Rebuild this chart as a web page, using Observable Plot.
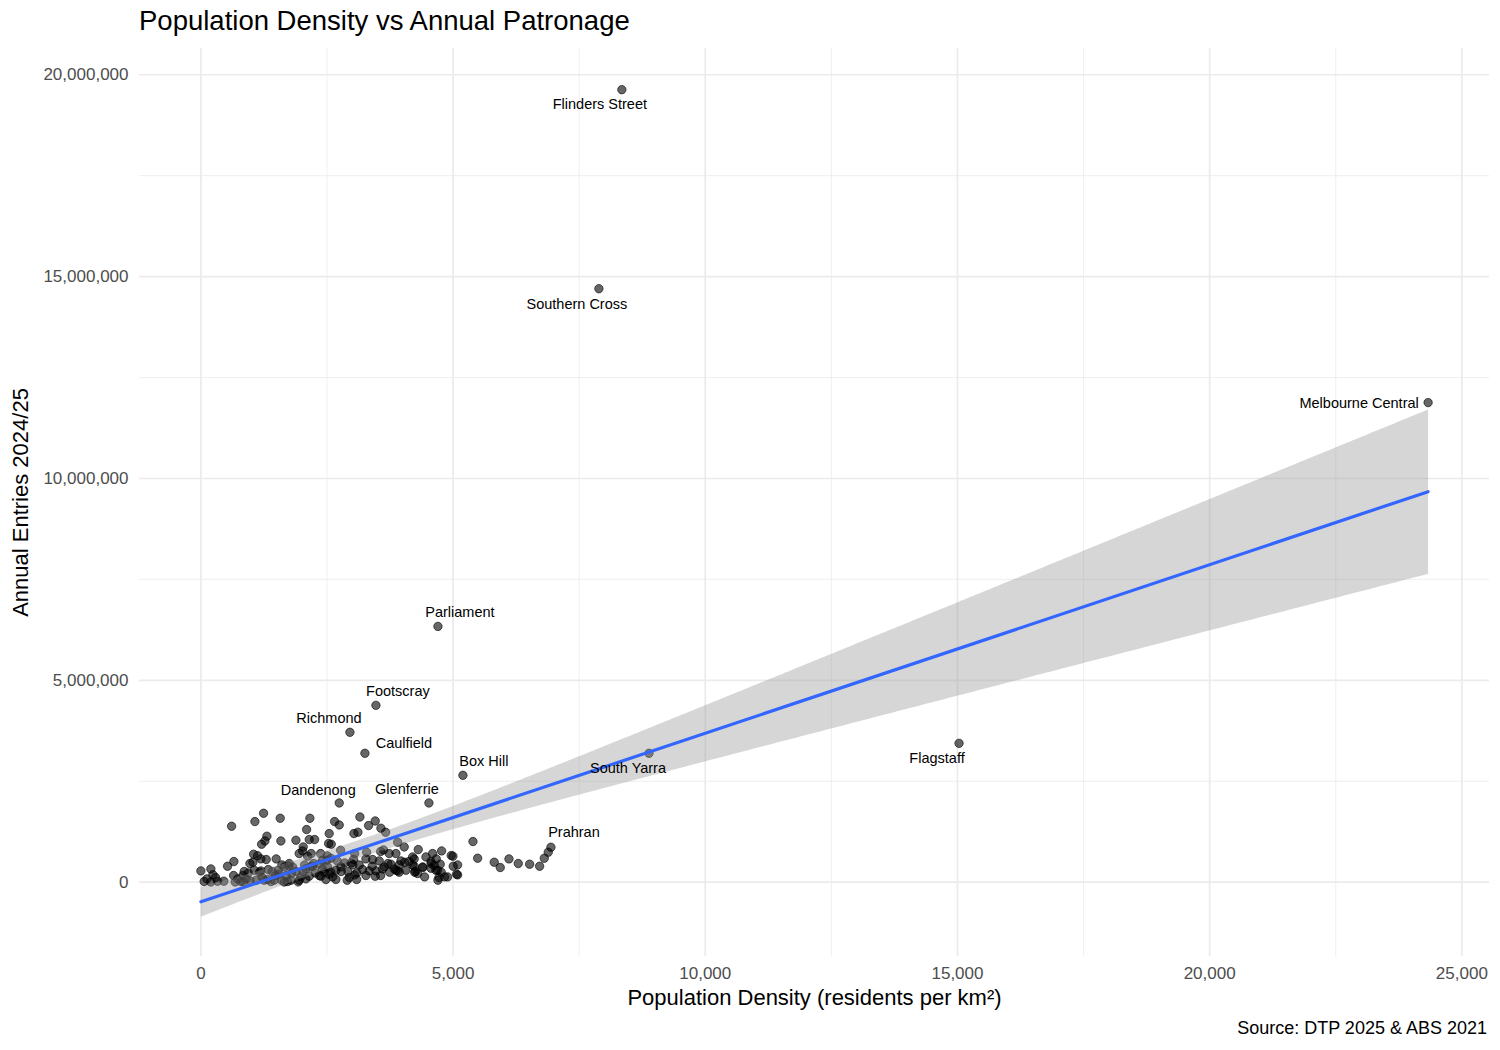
<!DOCTYPE html>
<html>
<head>
<meta charset="utf-8">
<script src="https://cdn.jsdelivr.net/npm/d3@7"></script>
<script src="https://cdn.jsdelivr.net/npm/@observablehq/plot@0.6"></script>
<style>
  html, body { margin: 0; padding: 0; background: white; }
  body { width: 1500px; height: 1050px; position: relative; font-family: "Liberation Sans", Arial, sans-serif; }
  #title { position: absolute; left: 139px; top: 7px; font-size: 27.5px; color: #000; line-height: 1; white-space: nowrap; }
  #caption { position: absolute; right: 13px; top: 1019px; font-size: 18px; color: #000; line-height: 1; white-space: nowrap; }
  #chart { position: absolute; left: 0; top: 0; }
</style>
</head>
<body>
<div id="chart"></div>
<div id="title">Population Density vs Annual Patronage</div>
<div id="caption">Source: DTP 2025 &amp; ABS 2021</div>
<script>
// ---- Data ----
// Labelled stations
const labelNames   = ["Flinders Street", "Southern Cross", "Melbourne Central", "Parliament", "Footscray", "Richmond", "Caulfield", "Box Hill", "Glenferrie", "Dandenong", "South Yarra", "Flagstaff", "Prahran"];
const labelDensity = [8346, 7891, 24331, 4700, 3470, 2955, 3252, 5195, 4521, 2743, 8884, 15031, 6940];
const labelEntries = [19630000, 14700000, 11880000, 6336000, 4381000, 3713000, 3193000, 2648000, 1963000, 1963000, 3193000, 3440000, 866000];

// Other stations (unlabelled)
const otherDensity = [
  609,1071,1243,1573,1309,1269,1204,1586,1045,1124,1295,1493,1031,654,529,198,0,238,291,119,65,198,331,456,648,728,793,859,938,833,
  1057,1190,1335,1414,1216,1323,1454,1547,1652,1692,1600,1719,1097,978,898,972,1745,
  2161,2096,2651,2743,3153,3325,3456,1884,2255,2148,2544,2532,2584,3034,3113,2029,2017,1949,2187,2374,2770,3286,3564,3620,3048,2505,
  2413,2703,2850,2980,3272,3405,3536,1751,1818,1884,2056,2082,2215,2346,2413,2267,2148,2346,2544,2677,2782,2915,2941,3048,3206,3337,
  3470,3603,3272,3456,3564,1949,2479,2677,2901,3088,2116,2174,1929,1652,1785,1164,1255,2612,3139,3708,3734,3867,3867,3932,4039,4065,
  4198,4238,4198,4436,4396,4462,4567,4660,4594,4765,4832,4700,4963,5003,5070,3569,3663,3901,4031,5394,5487,4309,4773,4997,4667,4229,
  4125,3966,5090,5090,3635,3768,3833,3901,4229,4256,4402,4561,4627,4694,4745,4561,4892,4297,4720,5816,5935,6108,6292,6518,6716,6808,6887,
  680,840,1190,1388,1481,1533,1606,1798,1983,2023,2082,2234,2380,2446,2512,2499,2578,2578,2776,3014,3028,3093,3397,3741,3932
];
const otherEntries = [
  1386000,1502000,1708000,1584000,1139000,1022000,941000,1022000,693000,656000,562000,577000,495000,512000,396000,329000,280000,186000,116000,82000,17000,5000,25000,25000,166000,82000,17000,265000,230000,166000,
  297000,280000,314000,265000,116000,67000,50000,198000,379000,166000,50000,17000,50000,32000,82000,463000,396000,
  1584000,1304000,1502000,1418000,1616000,1403000,1517000,1040000,1057000,1057000,1205000,958000,941000,1205000,1238000,874000,775000,710000,710000,710000,792000,743000,760000,800000,710000,651000,
  545000,527000,478000,478000,577000,562000,527000,463000,379000,265000,428000,329000,396000,446000,329000,230000,149000,166000,198000,297000,265000,265000,116000,181000,314000,280000,
  280000,329000,166000,149000,166000,50000,67000,67000,50000,67000,644000,379000,8000,5000,50000,248000,50000,131000,428000,463000,710000,710000,297000,428000,495000,297000,
  428000,248000,626000,131000,379000,626000,463000,297000,710000,248000,131000,50000,661000,396000,198000,1337000,1238000,990000,874000,1007000,594000,809000,775000,644000,577000,577000,
  512000,527000,428000,181000,379000,446000,329000,280000,396000,265000,364000,347000,413000,297000,446000,512000,131000,215000,116000,495000,364000,577000,463000,446000,396000,594000,743000,
  5000,10000,577000,17000,166000,297000,428000,215000,131000,265000,82000,463000,149000,248000,379000,545000,594000,248000,379000,428000,562000,230000,396000,248000,248000
];

// Axis ticks
const xMajor = [0, 5000, 10000, 15000, 20000, 25000];
const xMinor = [2500, 7500, 12500, 17500, 22500];
const yMajor = [0, 5000000, 10000000, 15000000, 20000000];
const yMinor = [2500000, 7500000, 12500000, 17500000];

// Label nudges (pixels), per labelled station
const labelDx = [-22, -22, -69, 22, 22, -21, 39, 21, -22, -21, -21, -22, 23];
const labelDy = [15, 16, 1, -14, -14, -14, -10, -14, -14, -13, 15, 15, -15];

// ---- Build tables ----
const points = [
  ...otherDensity.map((d, i) => ({density: d, entries: otherEntries[i], name: null})),
  ...labelDensity.map((d, i) => ({density: d, entries: labelEntries[i], name: labelNames[i]}))
];
const labelled = labelNames.map((n, i) => ({name: n, density: labelDensity[i], entries: labelEntries[i], dx: labelDx[i], dy: labelDy[i]}));

const grid = "#ebebeb";
const fmt = d3.format(",");

const chart = Plot.plot({
  width: 1500,
  height: 1050,
  marginLeft: 139,
  marginRight: 11,
  marginTop: 48,
  marginBottom: 94,
  style: {fontFamily: "'Liberation Sans', Arial, sans-serif", background: "white", overflow: "visible"},
  x: {domain: [-1217, 25548]},
  y: {domain: [-1840000, 20650000]},
  marks: [
    Plot.ruleX(xMinor, {stroke: grid, strokeWidth: 0.8}),
    Plot.ruleY(yMinor, {stroke: grid, strokeWidth: 0.8}),
    Plot.ruleX(xMajor, {stroke: grid, strokeWidth: 1.7}),
    Plot.ruleY(yMajor, {stroke: grid, strokeWidth: 1.7}),
    Plot.axisX({ticks: xMajor, tickSize: 0, tickPadding: 10, tickFormat: fmt, label: null, fontSize: 17, fill: "#4d4d4d"}),
    Plot.axisY({ticks: yMajor, tickSize: 0, tickPadding: 11, tickFormat: fmt, label: null, fontSize: 17, fill: "#4d4d4d"}),
    Plot.dot(points, {x: "density", y: "entries", r: 4.2, fill: "black", fillOpacity: 0.6, stroke: "black", strokeOpacity: 0.6, strokeWidth: 1}),
    Plot.linearRegressionY(points, {x: "density", y: "entries", stroke: "#3366FF", strokeWidth: 3.2, fill: "#999999", fillOpacity: 0.4, ci: 0.95}),
    ...labelled.map(l => Plot.text([l], {x: "density", y: "entries", text: "name", dx: l.dx, dy: l.dy, fontSize: 14.5, fill: "black"})),
    Plot.text(["Annual Entries 2024/25"], {frameAnchor: "left", dx: -119, rotate: -90, textAnchor: "middle", fontSize: 22, fill: "black"}),
    Plot.text(["Population Density (residents per km²)"], {frameAnchor: "bottom", dy: 48, textAnchor: "middle", fontSize: 22, fill: "black"})
  ]
});
document.getElementById("chart").appendChild(chart);
</script>
</body>
</html>
